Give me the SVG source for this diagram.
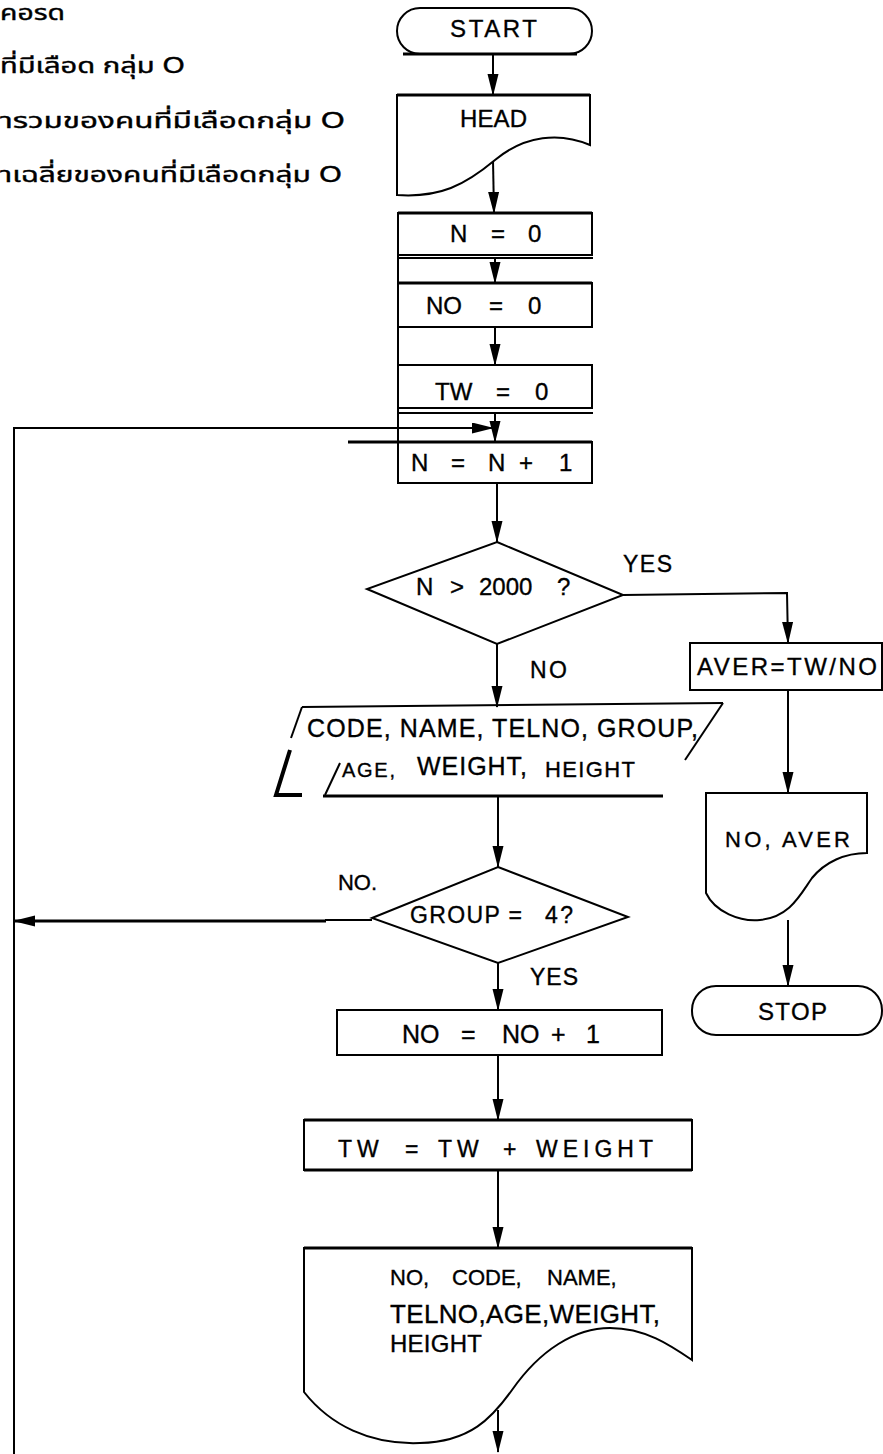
<svg xmlns="http://www.w3.org/2000/svg" width="883" height="1454" viewBox="0 0 883 1454">
<defs>
<style>
.s{fill:none;stroke:#000;stroke-width:2}
.k{fill:none;stroke:#000;stroke-width:3}
.w{fill:#fff;stroke:#000;stroke-width:2}
.t{font-family:"Liberation Sans",Arial,sans-serif;fill:#000;stroke:#000;stroke-width:0.35}
.th{font-family:"Noto Sans Thai","Noto Sans","DejaVu Sans",sans-serif;fill:#000;stroke:#000;stroke-width:0.4;font-size:22px}
</style>
<marker id="ah" markerUnits="userSpaceOnUse" markerWidth="22" markerHeight="12" refX="21" refY="5.5" orient="auto">
<path d="M0,0 L22,5.5 L0,11 Z" fill="#000"/>
</marker>
</defs>
<rect width="883" height="1454" fill="#fff"/>

<g id="notes">
<text class="th" x="0" y="20" textLength="65" lengthAdjust="spacingAndGlyphs">คอรด</text>
<text class="th" x="0" y="73" textLength="185" lengthAdjust="spacingAndGlyphs">ที่มีเลือด กลุ่ม O</text>
<text class="th" x="0" y="128" textLength="345" lengthAdjust="spacingAndGlyphs">ารวมของคนที่มีเลือดกลุ่ม O</text>
<text class="th" x="0" y="182" textLength="342" lengthAdjust="spacingAndGlyphs">าเฉลี่ยของคนที่มีเลือดกลุ่ม O</text>
</g>

<g id="connectors">
<line class="s" x1="493" y1="54" x2="493" y2="95" marker-end="url(#ah)"/>
<line class="s" x1="493" y1="160" x2="494" y2="213" marker-end="url(#ah)"/>
<line class="s" x1="495" y1="258" x2="495" y2="283" marker-end="url(#ah)"/>
<line class="s" x1="495" y1="327" x2="495" y2="365" marker-end="url(#ah)"/>
<line class="s" x1="495" y1="413" x2="495" y2="442" marker-end="url(#ah)"/>
<polyline class="s" points="14,1454 14,428 493,428" marker-end="url(#ah)"/>
<line class="s" x1="497" y1="483" x2="497" y2="542" marker-end="url(#ah)"/>
<polyline class="s" points="623,595 787,593 788,643" marker-end="url(#ah)"/>
<line class="s" x1="497" y1="644" x2="497" y2="707" marker-end="url(#ah)"/>
<line class="s" x1="788" y1="690" x2="788" y2="793" marker-end="url(#ah)"/>
<line class="s" x1="788" y1="920" x2="788" y2="986" marker-end="url(#ah)"/>
<line class="s" x1="498" y1="796" x2="498" y2="867" marker-end="url(#ah)"/>
<line class="s" x1="372" y1="920" x2="325" y2="920"/>
<line class="k" x1="326" y1="921" x2="14" y2="921" marker-end="url(#ah)"/>
<line class="s" x1="498" y1="963" x2="498" y2="1010" marker-end="url(#ah)"/>
<line class="s" x1="498" y1="1055" x2="498" y2="1120" marker-end="url(#ah)"/>
<line class="s" x1="498" y1="1170" x2="498" y2="1248" marker-end="url(#ah)"/>
<line class="s" x1="498" y1="1410" x2="498" y2="1452" marker-end="url(#ah)"/>
</g>

<g id="start">
<rect class="w" x="397" y="8" width="195" height="46" rx="23"/>
<line class="k" x1="403" y1="54" x2="577" y2="54"/>
<text class="t" x="450" y="37" font-size="24" textLength="87" lengthAdjust="spacing">START</text>
</g>

<g id="head">
<path class="w" d="M397,95 L590,95 L590,145 C560,132 525,135 495,160 C465,185 440,198 397,195 Z"/>
<line class="k" x1="397" y1="95" x2="590" y2="95"/>
<text class="t" x="460" y="127" font-size="24" textLength="67" lengthAdjust="spacing">HEAD</text>
</g>

<g id="n0">
<rect class="w" x="398" y="213" width="194" height="42"/>
<line class="k" x1="398" y1="213" x2="592" y2="213"/>
<line class="s" x1="398" y1="258" x2="593" y2="258"/>
<text class="t" y="242" font-size="24"><tspan x="450">N</tspan><tspan x="491">=</tspan><tspan x="528">0</tspan></text>
</g>

<g id="no0">
<rect class="w" x="398" y="283" width="194" height="44"/>
<line class="k" x1="398" y1="283" x2="592" y2="283"/>
<text class="t" y="314" font-size="24"><tspan x="426">NO</tspan><tspan x="489">=</tspan><tspan x="528">0</tspan></text>
</g>

<g id="tw0">
<rect class="w" x="398" y="365" width="194" height="43"/>
<line class="s" x1="398" y1="413" x2="593" y2="413"/>
<text class="t" y="400" font-size="24"><tspan x="435">TW</tspan><tspan x="496">=</tspan><tspan x="535">0</tspan></text>
</g>

<g id="leftedge">
<line class="s" x1="398" y1="213" x2="398" y2="483"/>
</g>

<g id="n1">
<rect class="w" x="398" y="442" width="194" height="41"/>
<line class="k" x1="348" y1="442" x2="592" y2="442"/>
<text class="t" y="471" font-size="24"><tspan x="411">N</tspan><tspan x="451">=</tspan><tspan x="488">N</tspan><tspan x="519">+</tspan><tspan x="559">1</tspan></text>
</g>

<g id="dec1">
<polygon class="w" points="497,542 623,595 497,644 367,589"/>
<text class="t" y="595" font-size="24"><tspan x="416">N</tspan><tspan x="450">&gt;</tspan><tspan x="479">2000</tspan><tspan x="557">?</tspan></text>
<text class="t" x="623" y="572" font-size="23" textLength="49" lengthAdjust="spacing">YES</text>
<text class="t" x="530" y="678" font-size="23" textLength="37" lengthAdjust="spacing">NO</text>
</g>

<g id="input">
<line class="s" x1="302" y1="707" x2="723" y2="703"/>
<line class="s" x1="302" y1="707" x2="291" y2="738"/>
<line class="s" x1="723" y1="703" x2="685" y2="760"/>
<line class="s" x1="325" y1="795" x2="340" y2="763"/>
<path d="M290,750 L276,795 L302,795" fill="none" stroke="#000" stroke-width="4"/>
<line class="k" x1="323" y1="796" x2="663" y2="796"/>
<text class="t" x="307" y="737" font-size="25" textLength="391" lengthAdjust="spacing">CODE, NAME, TELNO, GROUP,</text>
<text class="t" x="342" y="777" font-size="20" textLength="53" lengthAdjust="spacing">AGE,</text>
<text class="t" x="417" y="775" font-size="25" textLength="110" lengthAdjust="spacing">WEIGHT,</text>
<text class="t" x="545" y="777" font-size="22" textLength="90" lengthAdjust="spacing">HEIGHT</text>
</g>

<g id="aver">
<rect class="w" x="690" y="643" width="192" height="47"/>
<text class="t" x="697" y="675" font-size="24" textLength="180" lengthAdjust="spacing">AVER=TW/NO</text>
</g>

<g id="outavg">
<path class="w" d="M706,793 L867,793 L867,853 C845,853 825,862 812,878 C800,895 790,917 760,920 C740,922 715,912 706,893 Z"/>
<text class="t" x="725" y="847" font-size="22" textLength="125" lengthAdjust="spacing">NO, AVER</text>
</g>

<g id="stop">
<rect class="w" x="692" y="986" width="190" height="49" rx="24"/>
<text class="t" x="758" y="1020" font-size="24" textLength="69" lengthAdjust="spacing">STOP</text>
</g>

<g id="dec2">
<polygon class="w" points="498,867 628,917 498,963 372,918"/>
<text class="t" x="410" y="923" font-size="23" textLength="112" lengthAdjust="spacing">GROUP =</text>
<text class="t" x="545" y="923" font-size="23" textLength="28" lengthAdjust="spacing">4?</text>
<text class="t" x="338" y="890" font-size="22" textLength="39" lengthAdjust="spacing">NO.</text>
<text class="t" x="530" y="985" font-size="23" textLength="48" lengthAdjust="spacing">YES</text>
</g>

<g id="noinc">
<rect class="w" x="337" y="1010" width="325" height="45"/>
<text class="t" y="1043" font-size="25"><tspan x="402">NO</tspan><tspan x="461">=</tspan><tspan x="502">NO</tspan><tspan x="551">+</tspan><tspan x="586">1</tspan></text>
</g>

<g id="twinc">
<rect class="w" x="304" y="1120" width="388" height="50"/>
<line class="k" x1="304" y1="1120" x2="692" y2="1120"/>
<line class="k" x1="304" y1="1170" x2="692" y2="1170"/>
<text class="t" y="1157" font-size="23" letter-spacing="5"><tspan x="338">TW</tspan><tspan x="405">=</tspan><tspan x="438">TW</tspan><tspan x="503">+</tspan><tspan x="536">WEIGHT</tspan></text>
</g>

<g id="outrec">
<path class="w" d="M304,1248 L692,1248 L692,1360 C670,1345 645,1328 610,1328 C575,1328 540,1350 512,1390 C492,1418 470,1442 420,1443 C370,1445 330,1425 304,1392 Z"/>
<line class="k" x1="304" y1="1248" x2="692" y2="1248"/>
<text class="t" y="1285" font-size="22"><tspan x="390">NO,</tspan><tspan x="452">CODE,</tspan><tspan x="547">NAME,</tspan></text>
<text class="t" x="390" y="1323" font-size="26" textLength="270" lengthAdjust="spacing">TELNO,AGE,WEIGHT,</text>
<text class="t" x="390" y="1352" font-size="24" textLength="92" lengthAdjust="spacing">HEIGHT</text>
</g>
</svg>
